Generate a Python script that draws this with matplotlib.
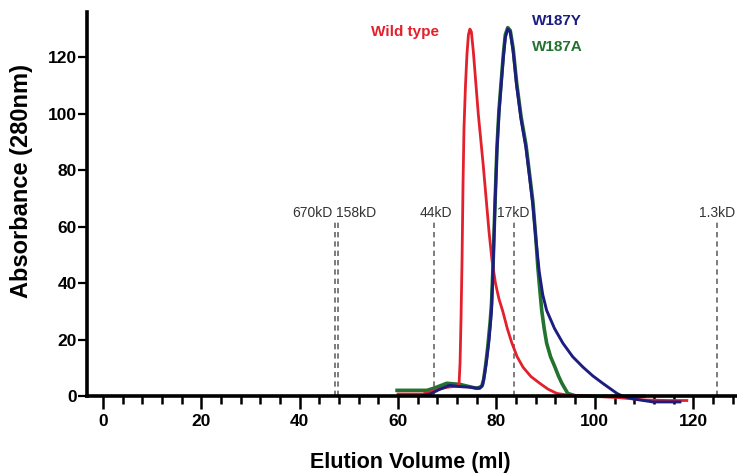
import matplotlib
matplotlib.use("Agg")
import matplotlib.pyplot as plt
from matplotlib.ticker import MultipleLocator

plt.rcParams['font.family'] = ['Liberation Sans', 'DejaVu Sans']

# ---- data ----
wt_x = [60.0, 63.0, 65.0, 67.0, 69.0, 70.0, 71.0, 72.0, 72.4, 72.6, 72.8, 73.0, 73.2, 73.4,
        73.7, 74.0, 74.3, 74.6, 74.9, 75.3, 75.8, 76.3, 76.8, 77.3, 77.9, 78.5, 79.1, 79.8,
        80.5, 81.3, 82.2, 83.1, 84.2, 85.4, 87.0, 88.8, 90.5, 92.3, 95.0, 100.0, 105.0,
        110.0, 115.0, 118.7]
wt_y = [0.8, 0.8, 0.8, 1.8, 2.8, 3.2, 3.4, 3.6, 4.5, 12, 28, 48, 75, 95,
        110, 121, 128, 130, 129, 122, 111, 100, 91, 82, 70, 58, 48, 40,
        34.5, 30, 24, 19, 14, 10.3, 7, 4.6, 2.5, 1.0, 0.3, 0.0, -0.5,
        -1.3, -1.5, -1.5]

y_x = [65.0, 66.5, 68.5, 70.5, 72.0, 74.6, 76.6, 77.2, 77.6, 78.0, 78.5, 79.0, 79.3, 79.7,
       80.1, 80.5, 80.9, 81.4, 81.8, 82.3, 82.8, 83.4, 84.1, 85.0, 86.0, 86.7, 87.4, 88.1,
       88.7, 89.4, 90.2, 91.8, 93.5, 95.5, 97.6, 99.6, 101.6, 104.5, 105.7, 108.0, 111.8,
       115.0, 117.3]
y_y = [0.3, 0.8, 2.5, 3.9, 3.5, 3.2, 2.8, 4, 8, 12.7, 20, 30.4, 44.6, 67.6,
       87, 100, 109, 120, 127, 130, 129, 122, 110, 98, 88, 78, 67.6, 54,
       44, 36, 30.4, 24, 18.8, 14, 10.3, 7.2, 4.6, 1.0, 0.0, -1.0, -2.0,
       -2.0, -2.0]

a_x = [59.8, 62.0, 65.9, 67.5, 69.9, 72.6, 74.5, 76.0, 77.0, 77.4, 77.8, 78.2, 78.7, 79.0,
       79.3, 79.7, 80.1, 80.5, 80.9, 81.4, 81.8, 82.3, 82.8, 83.4, 84.1, 85.0, 86.0, 86.7,
       87.4, 88.0, 88.4, 88.8, 89.2, 89.7, 90.2, 91.0, 91.9, 92.6, 93.3, 94.5, 96.0, 100.0,
       105.0, 110.0]
a_y = [2.1, 2.1, 2.1, 3.0, 4.6, 4.2, 3.4, 2.8, 3.5, 6, 11, 17, 26, 33,
       46, 68, 88, 101, 110, 121, 128, 130.5, 129.5, 123, 111, 99, 89, 79,
       69, 56, 46, 38, 30.4, 24, 18.8, 14, 10.3, 7.2, 4.6, 1.0, 0.2, 0.0,
       0.0, 0.0]

marker_vols = [47.2, 47.8, 67.3, 83.5, 124.8]
marker_labels = ['670kD', '158kD', '44kD', '17kD', '1.3kD']
marker_top = 61.6

series_names = ['Wild type', 'W187Y', 'W187A']
series_colors = ['#e3202b', '#1c1d7e', '#23722f']

# ---- figure ----
fig = plt.figure(figsize=(7.37, 4.76), dpi=100)
ax = fig.add_axes([0.118, 0.120, 0.880, 0.8546])

ax.set_xlim(-3.25, 128.6)
ax.set_ylim(-8, 136)

# marker dashed lines
for v in marker_vols:
    ax.plot([v, v], [0, marker_top], color='#666666', lw=1.2,
            linestyle=(0, (3.2, 2.4)), zorder=1)
aligns = ['right', 'left', 'center', 'center', 'center']
offs = [-0.5, -0.4, 0.3, 0.0, 0.0]
for v, lab, ha, o in zip(marker_vols, marker_labels, aligns, offs):
    ax.text(v + o, 63.4, lab, ha=ha, va='baseline', fontsize=10,
            color='#333333', zorder=3)

# curves
ax.plot(a_x, a_y, color=series_colors[2], lw=2.6, zorder=2, solid_joinstyle='round')
ax.plot(wt_x, wt_y, color=series_colors[0], lw=2.0, zorder=3, solid_joinstyle='round')
ax.plot(y_x, y_y, color=series_colors[1], lw=2.1, zorder=4, solid_joinstyle='round')

# series labels
ax.text(61.4, 128.8, series_names[0], color=series_colors[0], fontsize=11,
        fontweight='bold', ha='center', va='center')
ax.text(87.3, 133.0, series_names[1], color=series_colors[1], fontsize=11,
        fontweight='bold', ha='left', va='center')
ax.text(87.3, 123.5, series_names[2], color=series_colors[2], fontsize=11,
        fontweight='bold', ha='left', va='center')

# spines
for s in ['top', 'right']:
    ax.spines[s].set_visible(False)
ax.spines['bottom'].set_position(('data', 0))
ax.spines['left'].set_bounds(0, 136)
ax.spines['left'].set_linewidth(2.6)
ax.spines['bottom'].set_linewidth(2.6)
ax.spines['left'].set_zorder(5)
ax.spines['bottom'].set_zorder(5)

ax.xaxis.set_minor_locator(MultipleLocator(4))
ax.set_xticks([0, 20, 40, 60, 80, 100, 120])
ax.set_yticks([0, 20, 40, 60, 80, 100, 120])

ax.tick_params(axis='x', which='major', direction='out', length=9.5, width=1.8,
               pad=3.5, labelsize=12.5)
ax.tick_params(axis='x', which='minor', direction='out', length=6, width=1.8)
ax.tick_params(axis='y', which='major', direction='out', length=6.5, width=1.6,
               pad=0.8, labelsize=12.5)
for lab in ax.get_xticklabels() + ax.get_yticklabels():
    lab.set_fontweight('bold')

ax.set_ylabel('Absorbance (280nm)', fontsize=17, fontweight='bold')
ax.yaxis.set_label_coords(-0.083, 0.585)
fig.text(0.557, 0.029, 'Elution Volume (ml)', fontsize=15.5, fontweight='bold',
         ha='center', va='center')

fig.savefig('out.png', dpi=100)
